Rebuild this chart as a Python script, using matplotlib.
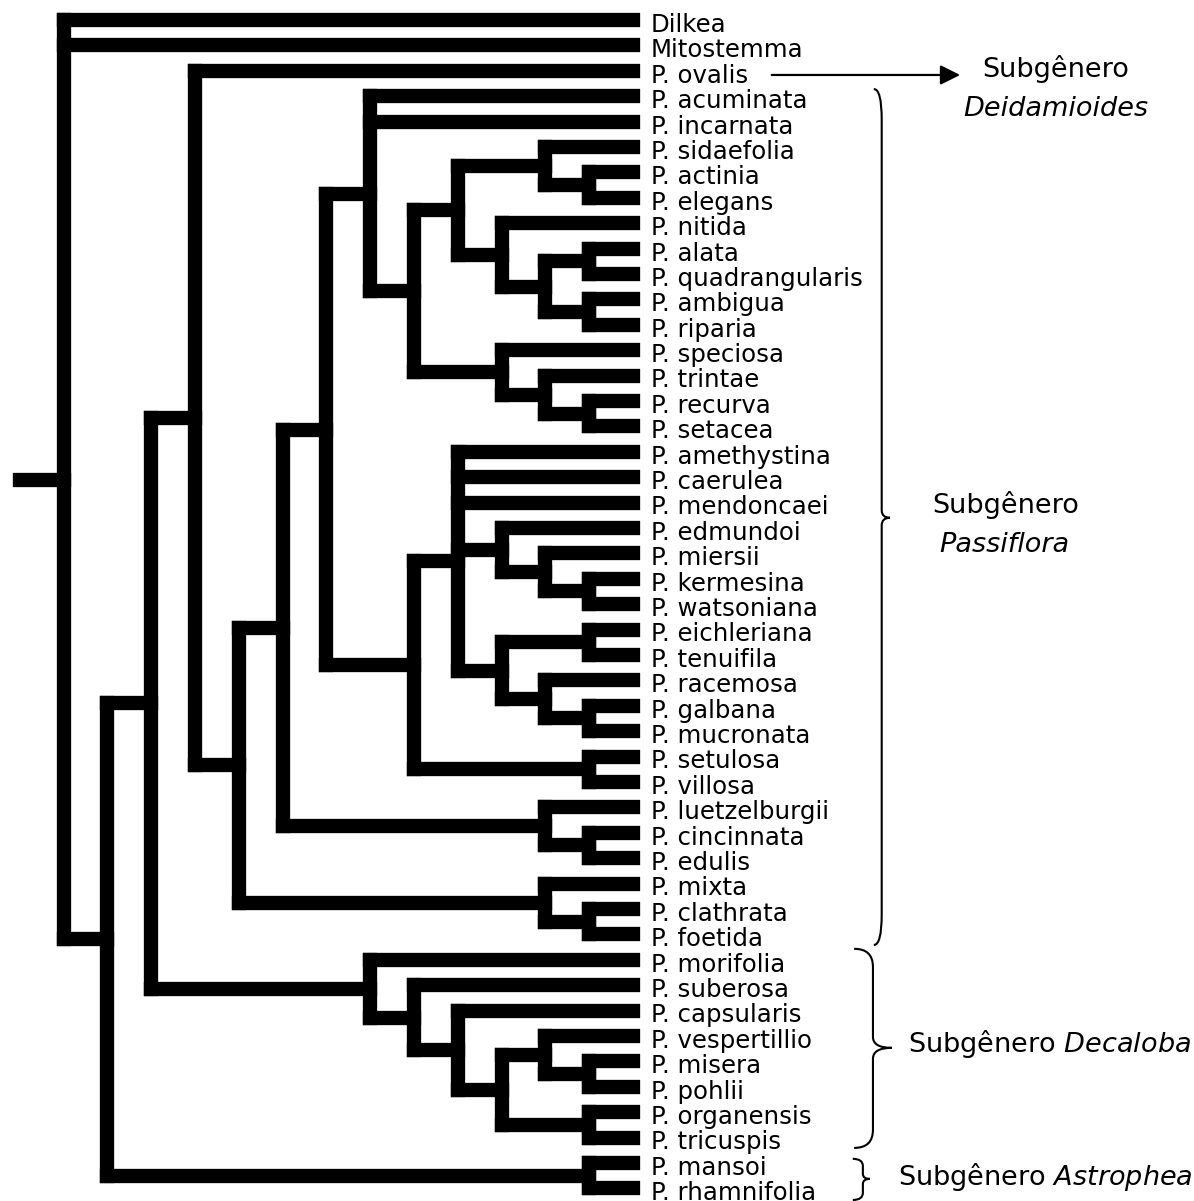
import matplotlib
matplotlib.use("Agg")
import matplotlib.pyplot as plt
from matplotlib.collections import LineCollection
from matplotlib.path import Path
from matplotlib.patches import PathPatch

# topology of the cladogram (leaves top to bottom)
decaloba = ["P. morifolia", ["P. suberosa", ["P. capsularis",
            [["P. vespertillio", ["P. misera", "P. pohlii"]], ["P. organensis", "P. tricuspis"]]]]]
astrophea = ["P. mansoi", "P. rhamnifolia"]
clade_a = ["P. acuminata", "P. incarnata",
           [[["P. sidaefolia", ["P. actinia", "P. elegans"]],
             ["P. nitida", [["P. alata", "P. quadrangularis"], ["P. ambigua", "P. riparia"]]]],
            ["P. speciosa", ["P. trintae", ["P. recurva", "P. setacea"]]]]]
clade_b = [["P. amethystina", "P. caerulea", "P. mendoncaei",
            ["P. edmundoi", ["P. miersii", ["P. kermesina", "P. watsoniana"]]],
            [["P. eichleriana", "P. tenuifila"], ["P. racemosa", ["P. galbana", "P. mucronata"]]]],
           ["P. setulosa", "P. villosa"]]
passiflora = [[[clade_a, clade_b], ["P. luetzelburgii", ["P. cincinnata", "P. edulis"]]],
              ["P. mixta", ["P. clathrata", "P. foetida"]]]
tree = ["Dilkea", "Mitostemma", [[["P. ovalis", passiflora], decaloba], astrophea]]

leaves = []
segs = []

def layout(node):
    # x = -height (leaves at 0), y = leaf index
    if isinstance(node, str):
        leaves.append(node)
        return 0, len(leaves) - 1
    kids = [layout(c) for c in node]
    h = max(k[0] for k in kids) + 1
    x = -h
    segs.append([(x, kids[0][1]), (x, kids[-1][1])])
    for kh, ky in kids:
        segs.append([(x, ky), (-kh, ky)])
    return h, (kids[0][1] + kids[-1][1]) / 2

root_h, root_y = layout(tree)
segs.append([(-root_h - 1.0, root_y), (-root_h, root_y)])

fig = plt.figure(figsize=(11.94, 12.01), dpi=100)
ax = fig.add_axes([0, 0, 1, 1])
ax.set_xlim(-14.45, 12.81)
ax.set_ylim(46.5, -0.787)
ax.axis("off")

ax.add_collection(LineCollection(segs, colors="black", linewidths=10.3, capstyle="projecting"))

for i, name in enumerate(leaves):
    ax.text(0.41, i + 0.47, name, fontsize=17.6, va="baseline", ha="left")

def brace(x_end, x_mid, x_tip, y0, y1, yt, r_end, r_tip):
    verts = [(x_end, y0), (x_mid, y0), (x_mid, y0 + r_end),
             (x_mid, yt - r_tip), (x_mid, yt), (x_tip, yt),
             (x_mid, yt), (x_mid, yt + r_tip),
             (x_mid, y1 - r_end), (x_mid, y1), (x_end, y1)]
    codes = [Path.MOVETO, Path.CURVE3, Path.CURVE3,
             Path.LINETO, Path.CURVE3, Path.CURVE3,
             Path.CURVE3, Path.CURVE3,
             Path.LINETO, Path.CURVE3, Path.CURVE3]
    ax.add_patch(PathPatch(Path(verts, codes), fill=False, lw=1.5, color="black"))

brace(5.50, 5.68, 5.87, 2.72, 36.42, 19.6, 1.2, 0.3)
brace(5.05, 5.48, 5.91, 36.57, 44.41, 40.47, 0.71, 0.43)
brace(5.02, 5.25, 5.41, 44.84, 46.46, 45.63, 0.28, 0.2)

ax.annotate("", xy=(7.47, 2.165), xytext=(3.17, 2.165),
            arrowprops=dict(arrowstyle="-|>", lw=1.6, color="black",
                            mutation_scale=30, shrinkA=0, shrinkB=0))

fs = 19.5
ax.text(9.66, 2.24, "Subgênero", fontsize=fs, ha="center", va="baseline")
ax.text(9.66, 3.78, "Deidamioides", fontsize=fs, ha="center", va="baseline", style="italic")
ax.text(8.52, 19.41, "Subgênero", fontsize=fs, ha="center", va="baseline")
ax.text(8.49, 20.94, "Passiflora", fontsize=fs, ha="center", va="baseline", style="italic")
ax.text(6.28, 40.63, r"Subgênero $\it{Decaloba}$", fontsize=fs, ha="left", va="baseline")
ax.text(6.05, 45.87, r"Subgênero $\it{Astrophea}$", fontsize=fs, ha="left", va="baseline")

fig.savefig("out.png", dpi=100)
